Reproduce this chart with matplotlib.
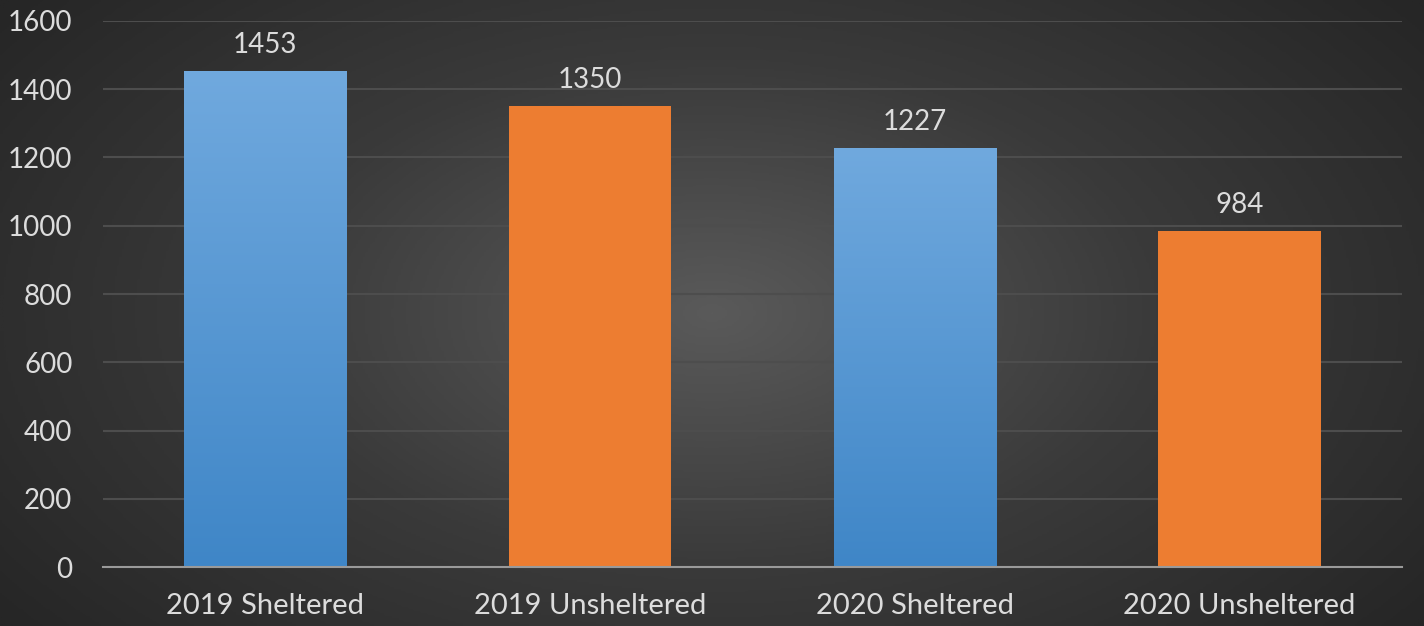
import numpy as np
import matplotlib.pyplot as plt
from matplotlib.colors import LinearSegmentedColormap

# data
categories = ['2019 Sheltered', '2019 Unsheltered', '2020 Sheltered', '2020 Unsheltered']
values = [1453, 1350, 1227, 984]
kinds = ['sheltered', 'unsheltered', 'sheltered', 'unsheltered']

plt.rcParams['font.family'] = ['Lato', 'DejaVu Sans']
text_color = '#dcdcdc'

fig = plt.figure(figsize=(14.24, 6.26), dpi=100)

# radial gradient background
bg = fig.add_axes([0, 0, 1, 1], zorder=-10)
yy, xx = np.mgrid[-1:1:300j, -1:1:600j]
r = np.sqrt((xx / 1.0) ** 2 + (yy / 1.3) ** 2)
bg_cmap = LinearSegmentedColormap.from_list('bg', ['#5a5a5a', '#3a3a3a', '#262626'])
bg.imshow(r, cmap=bg_cmap, aspect='auto', extent=[0, 1, 0, 1], vmin=0, vmax=1.25)
bg.set_axis_off()

ax = fig.add_axes([0.0723, 0.0942, 0.9123, 0.8723])
ax.patch.set_alpha(0)

x = np.arange(len(categories))
blue_cmap = LinearSegmentedColormap.from_list('blue', ['#3f86c7', '#70a9de'])
grad = np.linspace(0, 1, 256).reshape(-1, 1)

bars = ax.bar(x, values, width=0.5, zorder=3)
for bar, kind in zip(bars, kinds):
    if kind == 'sheltered':
        bar.set_facecolor('none')
        x0, w, h = bar.get_x(), bar.get_width(), bar.get_height()
        im = ax.imshow(grad, cmap=blue_cmap, aspect='auto', origin='lower',
                       extent=[x0, x0 + w, 0, h], zorder=3)
        im.set_clip_path(bar)
    else:
        bar.set_facecolor('#ed7d31')
    ax.text(bar.get_x() + bar.get_width() / 2, bar.get_height() + 38, str(bar.get_height()),
            ha='center', va='bottom', color=text_color, fontsize=20)

ax.set_xlim(-0.5, 3.5)
ax.set_ylim(0, 1600)
ax.set_yticks(range(0, 1601, 200))
ax.set_xticks(x)
ax.set_xticklabels(categories)
ax.tick_params(axis='both', length=0, colors=text_color, labelsize=20)
ax.tick_params(axis='x', labelsize=21, pad=19)
ax.tick_params(axis='y', pad=22)
ax.grid(axis='y', color='#4d4d4d', linewidth=1.5, zorder=0)
for side in ['top', 'right', 'left']:
    ax.spines[side].set_visible(False)
ax.spines['bottom'].set_color('#9a9a9a')
ax.spines['bottom'].set_linewidth(1.5)
ax.spines['bottom'].set_zorder(4)

fig.savefig('out.png', dpi=100)
